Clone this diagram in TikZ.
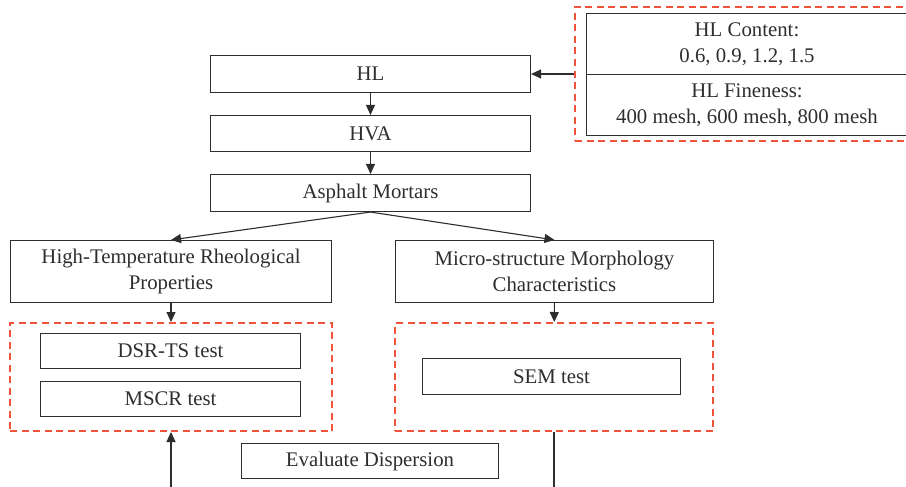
\documentclass[tikz,border=0pt]{standalone}
\usepackage{fontspec}
\setmainfont{Liberation Serif}
\usetikzlibrary{arrows.meta,positioning}
\definecolor{ink}{HTML}{2E2E2E}
\definecolor{dashred}{HTML}{F0553C}
\begin{document}
\begin{tikzpicture}[x=1pt,y=-1pt,
  box/.style={draw=ink,line width=1.1pt,inner sep=0pt,align=center,text=ink,font=\fontsize{20.8}{26.5}\selectfont},
  grp/.style={draw=dashred,line width=2pt,dash pattern=on 7pt off 4.5pt,inner sep=0pt},
  arr/.style={draw=ink,line width=1.1pt,-{Triangle[length=10pt,width=9pt]}}]
\useasboundingbox (0,0) rectangle (906,487);
\clip (0,0) rectangle (906,487);
\fill[white] (0,0) rectangle (906,487);
% main column
\node[box,minimum width=320pt,minimum height=37pt] (hl) at (370.5,74) {HL};
\node[box,minimum width=320pt,minimum height=36pt] (hva) at (370.5,133.5) {HVA};
\node[box,minimum width=320pt,minimum height=37pt] (am) at (370.5,193) {Asphalt Mortars};
% right group
\node[grp,minimum width=344pt,minimum height=134pt] (rg) at (747,74) {};
\node[box,minimum width=321pt,minimum height=61pt] (cont) at (747,44) {HL Content:\\0.6, 0.9, 1.2, 1.5};
\node[box,minimum width=321pt,minimum height=61pt] (fine) at (747,105) {HL Fineness:\\400 mesh, 600 mesh, 800 mesh};
% second level
\node[box,minimum width=321pt,minimum height=62pt] (ht) at (171,271.5) {High-Temperature Rheological\\Properties};
\node[box,minimum width=318pt,minimum height=62pt] (ms) at (554.5,271.5) {Micro-structure Morphology\\Characteristics};
% groups
\node[grp,minimum width=322pt,minimum height=108pt] (lg) at (171,377) {};
\node[grp,minimum width=318pt,minimum height=108pt] (sg) at (554,377) {};
\node[box,minimum width=260pt,minimum height=35pt] (dsr) at (170.5,351) {DSR-TS test};
\node[box,minimum width=260pt,minimum height=35pt] (mscr) at (170.5,399) {MSCR test};
\node[box,minimum width=258pt,minimum height=36pt] (sem) at (551.5,376.5) {SEM test};
\node[box,minimum width=257pt,minimum height=35pt] (ev) at (370,461) {Evaluate Dispersion};
% connectors
\draw[arr] (rg.west |- hl.east) -- (hl.east);
\draw[arr] (hl) -- (hva);
\draw[arr] (hva) -- (am);
\draw[arr] (am.south) -- (ht.north);
\draw[arr] (am.south) -- (ms.north);
\draw[arr] (ht) -- (lg);
\draw[arr] (ms) -- (sg);
\coordinate (b1) at (554,520);
\coordinate (b2) at (171,520);
\draw[arr] (sg.south) -- (b1) -- (b2) -- (lg.south);
\end{tikzpicture}
\end{document}
